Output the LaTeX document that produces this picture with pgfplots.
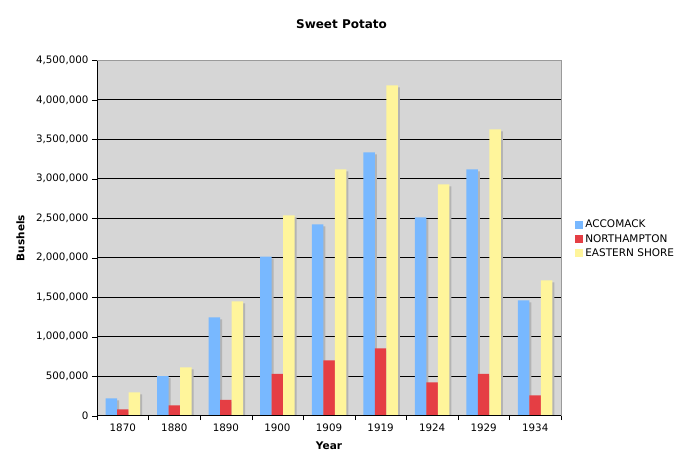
\documentclass[border=0pt]{standalone}
\usepackage{pgfplots}
\pgfplotsset{compat=1.18}
\usepackage{fontspec}
\setmainfont{DejaVu Sans}
\definecolor{cacc}{HTML}{78B8FF}
\definecolor{cnor}{HTML}{E53E44}
\definecolor{ces}{HTML}{FFF59B}
\definecolor{cbg}{HTML}{D6D6D6}
\definecolor{cshadow}{HTML}{B4B4B4}
\definecolor{cframe}{HTML}{9A9A9A}
\pgfplotstableread{
x acc nor es
0 220000 80000 296000
1 502000 131000 612000
2 1245000 199000 1448000
3 2013000 528000 2537000
4 2423000 701000 3119000
5 3334000 853000 4182000
6 2511000 423000 2929000
7 3119000 528000 3625000
8 1461000 258000 1714000
}\datatable
\begin{document}
\begin{tikzpicture}[x=1bp,y=1bp]
\path[use as bounding box] (0,0) rectangle (683,467);
\node[font=\fontsize{12bp}{14bp}\selectfont\bfseries] at (341.5,443) {Sweet Potato};
\begin{axis}[
  at={(97bp,51.3bp)}, anchor=south west,
  scale only axis, width=464bp, height=355.4bp,
  xmin=-0.5, xmax=8.5, ymin=0, ymax=4500000,
  axis lines=left, axis line style={-, black},
  axis background/.style={fill=cbg},
  xtick={0,...,8},
  xticklabels={1870,1880,1890,1900,1909,1919,1924,1929,1934},
  major x tick style={draw=none},
  minor xtick={-0.5,0.5,...,8.5},
  minor tick length=4.5bp,
  x tick style={black},
  ytick={0,500000,...,4500000},
  y tick style={black},
  tick align=outside,
  major tick length=5bp,
  ymajorgrids, major grid style={black, line width=0.9bp},
  scaled y ticks=false,
  yticklabel style={/pgf/number format/.cd, fixed, precision=0, 1000 sep={,}, assume math mode=true},
  xticklabel style={/pgf/number format/assume math mode=true},
  tick label style={font=\fontsize{10.3bp}{12bp}\selectfont},
  xlabel={Year}, ylabel={Bushels},
  label style={font=\fontsize{10.5bp}{12bp}\selectfont\bfseries},
  xlabel style={at={(axis description cs:0.5,-0.085)}, anchor=center},
  ylabel style={at={(axis description cs:-0.165,0.5)}, anchor=center},
  ybar, bar width=11.5bp,
  legend style={at={(axis description cs:1.024,0.562)}, anchor=north west, draw=none, fill=none,
    font=\fontsize{10.5bp}{12bp}\selectfont, row sep=1bp},
  legend cell align=left,
  legend image code/.code={\fill[#1] (0bp,-4bp) rectangle (8bp,4bp);},
  after end axis/.code={\draw[cframe, line width=0.8bp] (rel axis cs:0,1) -- (rel axis cs:1,1) -- (rel axis cs:1,0);\draw[black, line width=0.8bp] (rel axis cs:0,0) -- (rel axis cs:1,0);},
]
\addplot[fill=cshadow, draw=none, bar shift=-9.5bp, yshift=-2bp, forget plot] table[x=x,y=acc] {\datatable};
\addplot[fill=cshadow, draw=none, bar shift=2bp, yshift=-2bp, forget plot] table[x=x,y=nor] {\datatable};
\addplot[fill=cshadow, draw=none, bar shift=13.5bp, yshift=-2bp, forget plot] table[x=x,y=es] {\datatable};
\addplot[fill=cacc, draw=none, bar shift=-11.5bp] table[x=x,y=acc] {\datatable};
\addplot[fill=cnor, draw=none, bar shift=0bp] table[x=x,y=nor] {\datatable};
\addplot[fill=ces, draw=none, bar shift=11.5bp] table[x=x,y=es] {\datatable};
\legend{ACCOMACK,NORTHAMPTON,EASTERN SHORE}
\end{axis}
\end{tikzpicture}
\end{document}
